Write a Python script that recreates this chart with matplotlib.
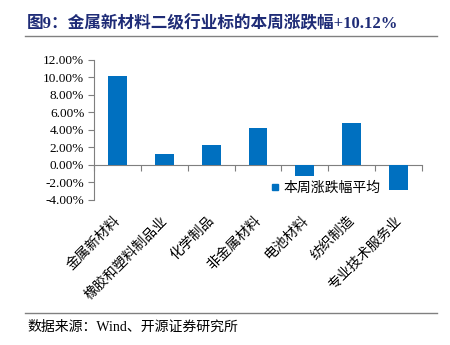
import numpy as np
import matplotlib
matplotlib.use("Agg")
import matplotlib.pyplot as plt
import matplotlib.transforms as mtransforms
from matplotlib.lines import Line2D

plt.rcParams['font.family'] = ['Liberation Serif', 'Noto Sans CJK SC', 'DejaVu Sans']

# data
categories = ["金属新材料", "橡胶和塑料制品业", "化学制品", "非金属材料",
              "电池材料", "纺织制造", "专业技术服务业"]
values = [10.12, 1.23, 2.30, 4.23, -1.30, 4.76, -2.96]
yticks = [-4, -2, 0, 2, 4, 6, 8, 10, 12]
title = "图9：金属新材料二级行业标的本周涨跌幅+10.12%"
legend_label = "本周涨跌幅平均"
source = "数据来源：Wind、开源证券研究所"

bar_color = "#0070C0"
title_color = "#1F2C77"
axis_color = "#7F7F7F"
cjk = ['Noto Sans CJK SC', 'DejaVu Sans']

fig = plt.figure(figsize=(4.5, 3.45), dpi=100)
ax = fig.add_axes([94 / 450, 1 - 199.5 / 345, 328 / 450, 139.5 / 345])

x = np.arange(len(categories))
ax.bar(x, values, width=0.4, color=bar_color, zorder=3)

ax.set_xlim(-0.5, len(categories) - 0.5)
ax.set_ylim(-4, 12)
ax.set_yticks(yticks)
ax.set_yticklabels(["%.2f%%" % v for v in yticks], fontsize=9.5)

for s in ["top", "right"]:
    ax.spines[s].set_visible(False)
ax.spines["left"].set_color(axis_color)
ax.spines["bottom"].set_color(axis_color)
ax.spines["bottom"].set_position(("data", 0))
ax.tick_params(axis="y", direction="out", length=4, color=axis_color, pad=3)

# boundary ticks on the zero line
ax.set_xticks(np.arange(-0.5, len(categories), 1.0))
ax.set_xticklabels([])
ax.tick_params(axis="x", direction="out", length=4, color=axis_color)

# rotated category labels below the plot
trans = mtransforms.blended_transform_factory(ax.transData, ax.transAxes)
for xi, name in zip(x, categories):
    ax.text(xi - 0.09, -0.1, name, transform=trans, rotation=45,
            ha="right", va="top", rotation_mode="anchor",
            fontsize=10, family=cjk)

handle = Line2D([], [], marker="s", linestyle="none", markersize=5,
                color=bar_color)
ax.legend([handle], [legend_label], loc="upper left",
          bbox_to_anchor=(0.496, 0.22), frameon=False, handletextpad=0.2,
          handlelength=0.8, prop={"family": cjk, "size": 10})

fig.text(27 / 450, 1 - 24 / 345, title, fontsize=12, fontweight="bold",
         color=title_color, ha="left", va="center",
         family=['Liberation Serif', 'Noto Sans CJK SC'])
fig.add_artist(Line2D([25 / 450, 437 / 450], [1 - 35.5 / 345, 1 - 35.5 / 345],
                      color="#808080", linewidth=1.0))
fig.add_artist(Line2D([25 / 450, 437 / 450], [1 - 313 / 345, 1 - 313 / 345],
                      color="#808080", linewidth=1.0))
fig.text(27 / 450, 1 - 327 / 345, source, fontsize=10, ha="left",
         va="center", family=['Liberation Serif', 'Noto Sans CJK SC'])

fig.savefig("out.png", dpi=100)
